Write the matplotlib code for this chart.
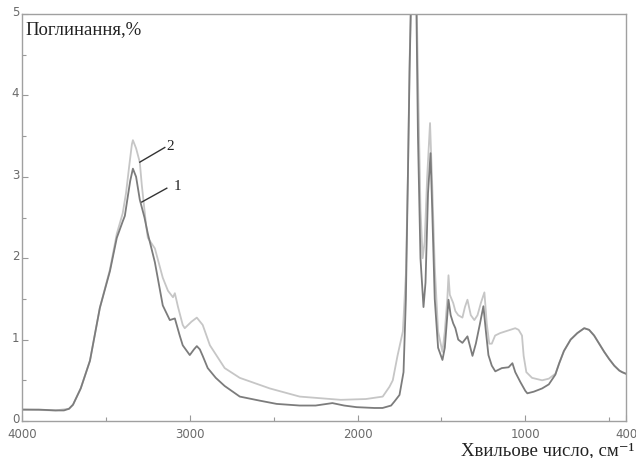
import matplotlib
matplotlib.use("Agg")
import matplotlib.pyplot as plt
import matplotlib.transforms as mtransforms
from matplotlib.ticker import MultipleLocator, FixedLocator

# Spectrum 1 (darker line)
wn1 = [4000, 3900, 3800, 3750, 3720, 3696, 3650, 3595, 3536, 3476, 3435, 3400, 3387, 3370, 3355, 3339,
       3320, 3298, 3270, 3250, 3208, 3161, 3119, 3089, 3060, 3042, 3000, 2975, 2958, 2940, 2923, 2893,
       2845, 2792, 2702, 2583, 2482, 2345, 2250, 2150, 2080, 2006, 1900, 1851, 1800, 1780, 1750, 1726,
       1712, 1700, 1690, 1680, 1665, 1650, 1640, 1625, 1607, 1595, 1580, 1565, 1555, 1540, 1520, 1494,
       1480, 1465, 1458, 1445, 1430, 1417, 1400, 1375, 1345, 1330, 1315, 1295, 1270, 1250, 1235, 1220,
       1200, 1179, 1140, 1100, 1077, 1060, 1030, 1000, 988, 950, 900, 860, 821, 798, 770, 730, 690,
       649, 620, 590, 560, 530, 500, 470, 440, 423, 400]
abs1 = [0.14, 0.14, 0.13, 0.13, 0.15, 0.2, 0.4, 0.74, 1.39, 1.84, 2.25, 2.45, 2.52, 2.75, 2.95, 3.1,
        3.0, 2.72, 2.5, 2.3, 1.95, 1.42, 1.24, 1.26, 1.05, 0.93, 0.81, 0.88, 0.92, 0.88, 0.8, 0.65,
        0.53, 0.43, 0.3, 0.25, 0.21, 0.19, 0.19, 0.22, 0.19, 0.17, 0.16, 0.16, 0.19, 0.24, 0.32, 0.6,
        1.5, 3.0, 4.3, 5.3, 5.6, 5.2, 3.5, 2.0, 1.4, 1.7, 2.8, 3.29, 2.6, 1.5, 0.9, 0.75,
        0.9, 1.3, 1.49, 1.3, 1.2, 1.14, 1.0, 0.96, 1.04, 0.92, 0.8, 0.95, 1.2, 1.41, 1.1, 0.81,
        0.68, 0.61, 0.65, 0.66, 0.71, 0.6, 0.48, 0.37, 0.34, 0.36, 0.4, 0.45, 0.57, 0.71, 0.86, 1.0, 1.08,
        1.14, 1.12, 1.05, 0.95, 0.85, 0.76, 0.68, 0.62, 0.6, 0.58]

# Spectrum 2 (lighter line)
wn2 = [4000, 3800, 3720, 3696, 3650, 3595, 3536, 3476, 3435, 3400, 3380, 3360, 3345, 3339, 3320, 3298,
       3286, 3260, 3250, 3208, 3161, 3130, 3100, 3089, 3070, 3042, 3030, 2990, 2958, 2923, 2880, 2792,
       2702, 2523, 2345, 2100, 1950, 1850, 1810, 1790, 1762, 1730, 1712, 1700, 1690, 1680, 1665, 1650,
       1638, 1625, 1612, 1600, 1585, 1568, 1555, 1540, 1520, 1494, 1480, 1465, 1458, 1450, 1430, 1417,
       1400, 1375, 1360, 1345, 1325, 1304, 1285, 1265, 1244, 1230, 1215, 1200, 1180, 1150, 1120, 1090,
       1060, 1040, 1020, 1010, 994, 960, 900, 860, 821, 798, 770, 730, 690, 649, 620, 590, 560, 530,
       500, 470, 440, 423, 400]
abs2 = [0.14, 0.13, 0.15, 0.2, 0.4, 0.74, 1.39, 1.86, 2.3, 2.55, 2.8, 3.15, 3.4, 3.45, 3.35, 3.18,
        2.9, 2.4, 2.25, 2.12, 1.76, 1.6, 1.52, 1.57, 1.4, 1.18, 1.14, 1.22, 1.27, 1.18, 0.93, 0.65,
        0.53, 0.4, 0.3, 0.26, 0.27, 0.3, 0.42, 0.5, 0.8, 1.1, 1.8, 3.0, 4.4, 5.3, 5.6, 5.4,
        4.0, 2.6, 2.0, 2.2, 3.0, 3.66, 2.9, 1.9, 1.1, 0.85, 1.1, 1.5, 1.79, 1.55, 1.45, 1.35,
        1.3, 1.27, 1.4, 1.49, 1.3, 1.24, 1.3, 1.45, 1.58, 1.2, 0.95, 0.95, 1.05, 1.08, 1.1, 1.12,
        1.14, 1.12, 1.05, 0.8, 0.6, 0.53, 0.5, 0.52, 0.58, 0.71, 0.86, 1.0, 1.08, 1.14, 1.12, 1.05, 0.95, 0.85,
        0.76, 0.68, 0.62, 0.6, 0.58]

x_major = [4000, 3000, 2000, 1000, 400]
x_labels = ["4000", "3000", "2000", "1000", "400"]
x_minor = [3500, 2500, 1500, 500]
y_major = [0, 1, 2, 3, 4, 5]

fig = plt.figure(figsize=(6.36, 4.58), dpi=100)
ax = fig.add_axes([22/636, 1-421/458, (626-22)/636, (421-14)/458])

ax.plot(wn2, abs2, color="#c6c6c6", lw=1.3)
ax.plot(wn1, abs1, color="#7c7c7c", lw=1.3)

ax.set_xlim(4000, 400)
ax.set_ylim(0, 5)

ax.xaxis.set_major_locator(FixedLocator(x_major))
ax.set_xticklabels(x_labels)
ax.xaxis.set_minor_locator(FixedLocator(x_minor))
ax.set_yticks(y_major)
ax.yaxis.set_minor_locator(MultipleLocator(0.5))

ax.tick_params(which="both", direction="in", color="#999999", labelcolor="#6a6a6a",
               labelsize=8.5, width=0.8)
ax.tick_params(which="major", length=4)
ax.tick_params(which="minor", length=3)
ax.tick_params(axis="y", pad=2)
ax.tick_params(axis="x", pad=5)
up = mtransforms.ScaledTranslation(0, 3/100, fig.dpi_scale_trans)
for lbl in ax.get_yticklabels():
    lbl.set_transform(lbl.get_transform() + up)
for s in ax.spines.values():
    s.set_color("#a0a0a0")
    s.set_linewidth(1.0)

serif = ["Liberation Serif", "DejaVu Serif"]
ax.text(0.005, 0.982, "Поглинання,%", transform=ax.transAxes, ha="left", va="top",
        fontsize=13.5, family=serif, color="#222222")
fig.text(0.997, 3/458, "Хвильове число, см⁻¹", ha="right", va="baseline",
         fontsize=13.5, family=serif, color="#222222")

ax.plot([3298, 3149], [3.18, 3.36], color="#333333", lw=1.0)
ax.text(3140, 3.37, "2", fontsize=11, family=serif, ha="left", va="center", color="#222222")
ax.plot([3286, 3137], [2.69, 2.86], color="#333333", lw=1.0)
ax.text(3095, 2.88, "1", fontsize=11, family=serif, ha="left", va="center", color="#222222")

fig.savefig("out.png", dpi=100)
